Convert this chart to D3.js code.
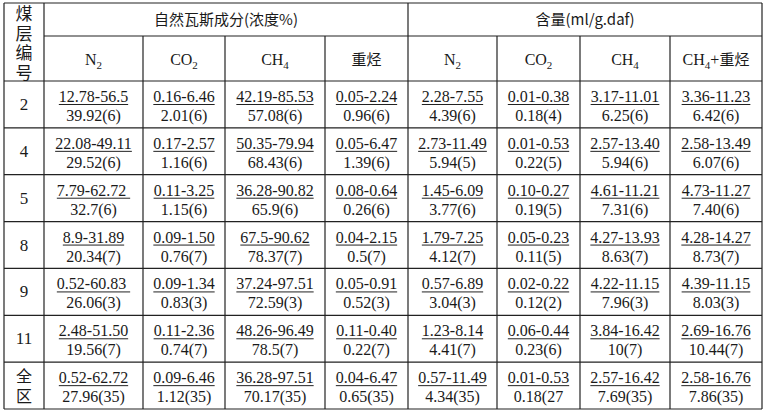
<!DOCTYPE html>
<html><head><meta charset="utf-8">
<script src="https://cdn.jsdelivr.net/npm/d3@7"></script>
<style>body{margin:0;background:#fff}text{font-family:"Liberation Serif","Times New Roman",serif;fill:#1a1a1a}.cjk{font-family:"Noto Sans CJK SC",sans-serif}</style>
</head><body><svg id="c" width="765" height="413"></svg>
<script>
const rowLabels=["2","4","5","8","9","11","全区"];
const groupHeaders=["自然瓦斯成分(浓度%)","含量(ml/g.daf)"];
const colHeaders=["N₂","CO₂","CH₄","重烃","N₂","CO₂","CH₄","CH₄+重烃"];
const ranges=[
["12.78-56.5","0.16-6.46","42.19-85.53","0.05-2.24","2.28-7.55","0.01-0.38","3.17-11.01","3.36-11.23"],
["22.08-49.11","0.17-2.57","50.35-79.94","0.05-6.47","2.73-11.49","0.01-0.53","2.57-13.40","2.58-13.49"],
["7.79-62.72 ","0.11-3.25","36.28-90.82","0.08-0.64","1.45-6.09","0.10-0.27","4.61-11.21","4.73-11.27"],
["8.9-31.89","0.09-1.50","67.5-90.62","0.04-2.15","1.79-7.25","0.05-0.23","4.27-13.93","4.28-14.27"],
["0.52-60.83 ","0.09-1.34","37.24-97.51","0.05-0.91","0.57-6.89","0.02-0.22","4.22-11.15","4.39-11.15"],
["2.48-51.50","0.11-2.36","48.26-96.49","0.11-0.40","1.23-8.14","0.06-0.44","3.84-16.42","2.69-16.76"],
["0.52-62.72","0.09-6.46","36.28-97.51","0.04-6.47","0.57-11.49","0.01-0.53","2.57-16.42","2.58-16.76"]];
const means=[
["39.92(6)","2.01(6)","57.08(6)","0.96(6)","4.39(6)","0.18(4)","6.25(6)","6.42(6)"],
["29.52(6)","1.16(6)","68.43(6)","1.39(6)","5.94(5)","0.22(5)","5.94(6)","6.07(6)"],
["32.7(6)","1.15(6)","65.9(6)","0.26(6)","3.77(6)","0.19(5)","7.31(6)","7.40(6)"],
["20.34(7)","0.76(7)","78.37(7)","0.5(7)","4.12(7)","0.11(5)","8.63(7)","8.73(7)"],
["26.06(3)","0.83(3)","72.59(3)","0.52(3)","3.04(3)","0.12(2)","7.96(3)","8.03(3)"],
["19.56(7)","0.74(7)","78.5(7)","0.22(7)","4.41(7)","0.23(6)","10(7)","10.44(7)"],
["27.96(35)","1.12(35)","70.17(35)","0.65(35)","4.34(35)","0.18(27","7.69(35)","7.86(35)"]];

const svg=d3.select("#c");
const colEdges=[4,44,143,225,325,408,497,580,670,762];
const x0=colEdges[0],x1=colEdges[colEdges.length-1];
const yTop=3,h1=36,h2=81,yBot=409;
const y=d3.scaleBand().domain(rowLabels).range([h2,yBot]);
const cx=i=>(colEdges[i+1]+colEdges[i+2])/2;
const L=svg.append("g").attr("stroke","#222").attr("stroke-width",1.2);
const line=(a,b,c,d)=>L.append("line").attr("x1",a).attr("y1",b).attr("x2",c).attr("y2",d);
line(x0,yTop,x1,yTop);line(x0,yBot,x1,yBot);line(x0,yTop,x0,yBot);line(x1,yTop,x1,yBot);
line(colEdges[1],h1,x1,h1);
rowLabels.forEach(r=>line(x0,y(r),x1,y(r)));
colEdges.slice(1,-1).forEach((e,i)=>{const full=(i===0||i===4);line(e,full?yTop:h1,e,yBot);});

["煤","层","编","号"].forEach((ch,i)=>svg.append("text").attr("class","cjk").attr("x",24).attr("y",yTop+17+i*19.5).attr("text-anchor","middle").attr("font-size",17).text(ch));
svg.append("text").attr("class","cjk").attr("x",(colEdges[1]+colEdges[5])/2).attr("y",25).attr("text-anchor","middle").attr("font-size",15).text(groupHeaders[0]);
svg.append("text").attr("class","cjk").attr("x",(colEdges[5]+colEdges[9])/2).attr("y",25).attr("text-anchor","middle").attr("font-size",15).text(groupHeaders[1]);
colHeaders.forEach((t,i)=>{
  const tx=svg.append("text").attr("x",cx(i)).attr("y",65).attr("text-anchor","middle").attr("font-size",16);
  const m=t.match(/^(.*?)([₂₄])(.*)$/);
  if(t==="重烃"){tx.attr("class","cjk").attr("font-size",15).text(t);}
  else if(m){tx.append("tspan").text(m[1]);tx.append("tspan").attr("font-size",11).attr("dy",4).text(m[2]==="₂"?"2":"4");
    if(m[3]){tx.append("tspan").attr("dy",-4).text("+");tx.append("tspan").attr("class","cjk").attr("font-size",15).text("重烃");}}
});
rowLabels.forEach((r,ri)=>{
  const yt=y(r);
  if(r==="全区"){["全","区"].forEach((ch,k)=>svg.append("text").attr("class","cjk").attr("x",24).attr("y",yt+20+k*20).attr("text-anchor","middle").attr("font-size",16).text(ch));}
  else svg.append("text").attr("x",24).attr("y",yt+29).attr("text-anchor","middle").attr("font-size",17).text(r);
  ranges[ri].forEach((t,ci)=>{
    const tt=svg.append("text").attr("x",cx(ci)).attr("y",yt+21).attr("text-anchor","middle").attr("font-size",16).attr("xml:space","preserve").text(t);
    const w=tt.node().getComputedTextLength();
    svg.append("line").attr("x1",cx(ci)-w/2).attr("x2",cx(ci)+w/2).attr("y1",yt+23.5).attr("y2",yt+23.5).attr("stroke","#222").attr("stroke-width",1);
    svg.append("text").attr("x",cx(ci)).attr("y",yt+40).attr("text-anchor","middle").attr("font-size",16).text(means[ri][ci]);
  });
});
</script></body></html>
